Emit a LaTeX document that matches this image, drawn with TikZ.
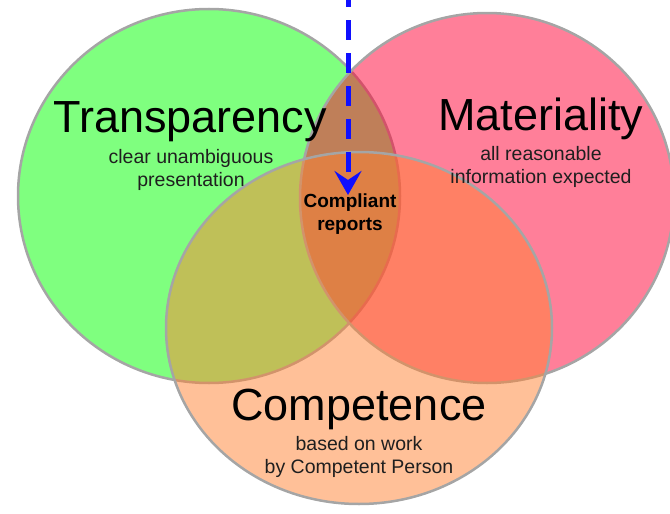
\documentclass[tikz,border=0pt]{standalone}
\usepackage{fontspec}
\setmainfont{Liberation Sans}
\usetikzlibrary{arrows.meta}
\definecolor{vgreen}{RGB}{0,255,0}
\definecolor{vred}{RGB}{255,0,51}
\definecolor{vorange}{RGB}{255,130,50}
\definecolor{vrim}{RGB}{165,165,165}
\definecolor{vblue}{RGB}{16,16,255}
\begin{document}
\begin{tikzpicture}[x=1pt,y=-1pt,
  setshape/.style={draw=vrim, line width=2.5pt, fill opacity=0.5},
  bigtitle/.style={font=\fontsize{45}{50}\selectfont, inner sep=0pt, anchor=base},
  subline/.style={font=\fontsize{19.5}{22}\selectfont, text=black!88, inner sep=0pt, anchor=base},
  coreline/.style={font=\bfseries\fontsize{19}{22}\selectfont, inner sep=0pt, anchor=base},
  flow/.style={line width=5pt, draw=vblue, dash pattern=on 20pt off 13pt, dash phase=13pt,
    -{Stealth[length=24pt,width=27pt,inset=9pt]}}
]
\useasboundingbox (0,0) rectangle (670,514);
\path[setshape, fill=vgreen] (209,196) ellipse [x radius=191pt, y radius=187pt];
\path[setshape, fill=vred] (487,198) ellipse [x radius=187pt, y radius=185pt];
\path[setshape, fill=vorange] (359,328) ellipse [x radius=193pt, y radius=176pt];

\node[bigtitle] (transp) at (190,132) {Transparency};
\node[subline] (transp1) at (191,163) {clear unambiguous};
\node[subline] (transp2) at (191,186) {presentation};

\node[bigtitle] (mater) at (541,130) {Materiality};
\node[subline] (mater1) at (541,160) {all reasonable};
\node[subline] (mater2) at (541,183) {information expected};

\node[bigtitle] (compet) at (359,420) {Competence};
\node[subline] (compet1) at (359,450) {based on work};
\node[subline] (compet2) at (359,473) {by Competent Person};

\node[coreline] (core1) at (350,207) {Compliant};
\node[coreline] (core2) at (350,230) {reports};

\coordinate (src) at (348,0);
\coordinate (tip) at (348,195);
\draw[flow] (src) -- (tip);
\end{tikzpicture}
\end{document}
